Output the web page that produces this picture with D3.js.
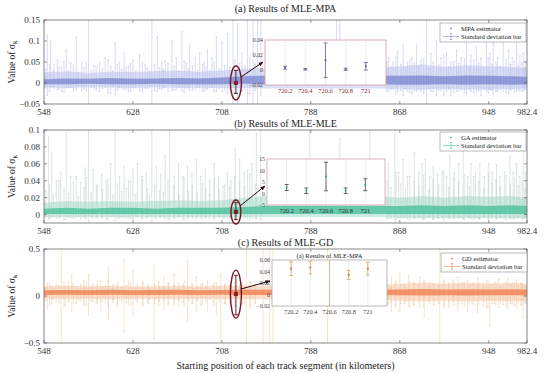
<!DOCTYPE html>
<html><head><meta charset="utf-8">
<script src="https://cdn.jsdelivr.net/npm/d3@7"></script>
<style>
body{margin:0;background:#fff}
svg{display:block}
text{font-family:"Liberation Serif","Times New Roman",serif}
</style>
</head><body><div id="chart"></div>
<script>
// ---- data ----
const kmTicks=[548,628,708,788,868,948,982.4];
const bandKm=[548,568,588,608,628,648,668,688,708,728,748,768,788,808,828,848,868,888,908,928,948,968,982.4];
const insetKm=[720.2,720.4,720.6,720.8,721];
// positions of the smaller error bars that make the fuzzy band
const fuzzKm=[549.5,553,556.5,561.5,566,570,574.5,579,584,586,590.5,595,600.5,605.5,610,614,618,622,626,630.5,636.5,641,643,647.5,652,655.5,659.5,665,669.5,674,678,681.5,686,690.5,693.5,697,701,705.5,710.5,715,719.5,724,728.5,733,738,
  856.5,860,864.5,869,873,877,881,885,889.5,894,898,903,907.5,912,916.5,921,926,930.5,934.5,939,943.5,947.5,951,954.5,958.5,963.5,967.5,971,974.5,978,980.5];

// (a) MPA
const mpaTicks=[-0.05,0,0.05,0.1,0.15];
const mpaCoreLo=[-0.003,-0.003,-0.002,-0.003,-0.003,-0.002,-0.003,-0.003,-0.003,-0.002,-0.003,-0.003,-0.003,-0.003,-0.003,-0.003,-0.004,-0.004,-0.003,-0.004,-0.003,-0.004,-0.003];
const mpaCoreHi=[0.009,0.011,0.010,0.012,0.010,0.011,0.012,0.011,0.013,0.016,0.018,0.017,0.016,0.016,0.016,0.017,0.017,0.018,0.016,0.018,0.017,0.016,0.015];
const mpaOutLo=[-0.010,-0.012,-0.010,-0.011,-0.012,-0.010,-0.012,-0.011,-0.012,-0.012,-0.013,-0.013,-0.013,-0.013,-0.013,-0.013,-0.015,-0.016,-0.014,-0.015,-0.016,-0.014,-0.013];
const mpaOutHi=[0.025,0.028,0.024,0.027,0.026,0.028,0.030,0.027,0.030,0.034,0.036,0.035,0.035,0.035,0.035,0.036,0.040,0.044,0.038,0.042,0.040,0.038,0.036];
const mpaFuzzHi=[0.032,0.045,0.028,0.038,0.051,0.03,0.042,0.026,0.036,0.048,0.03,0.04,0.034,0.055,0.028,0.044,0.032,0.038,0.046,0.029,0.05,0.035,0.027,0.043,0.036,0.031,0.047,0.04,0.028,0.052,0.033,0.041,0.03,0.045,0.037,0.029,0.05,0.034,0.042,0.038,0.055,0.047,0.04,0.06,0.045,
  0.05,0.038,0.062,0.044,0.036,0.055,0.048,0.04,0.058,0.035,0.05,0.043,0.065,0.039,0.052,0.046,0.058,0.04,0.055,0.048,0.036,0.06,0.045,0.05,0.039,0.056,0.044,0.052,0.041,0.048,0.038];
const mpaFuzzLo=[-0.012,-0.02,-0.009,-0.015,-0.022,-0.01,-0.018,-0.008,-0.014,-0.02,-0.011,-0.016,-0.013,-0.024,-0.009,-0.017,-0.012,-0.015,-0.019,-0.01,-0.021,-0.013,-0.009,-0.018,-0.014,-0.011,-0.02,-0.016,-0.01,-0.022,-0.012,-0.017,-0.011,-0.019,-0.014,-0.01,-0.021,-0.013,-0.017,-0.015,-0.023,-0.019,-0.016,-0.025,-0.018,
  -0.02,-0.015,-0.026,-0.018,-0.014,-0.023,-0.019,-0.016,-0.024,-0.013,-0.02,-0.017,-0.028,-0.015,-0.022,-0.018,-0.024,-0.016,-0.023,-0.019,-0.014,-0.025,-0.018,-0.02,-0.015,-0.023,-0.017,-0.021,-0.016,-0.019,-0.015];
// [km, upper, lower]
const mpaSpikes=[[551,0.114,-0.03],[554,0.098,-0.01],[557,0.045,-0.012],[560,0.055,-0.015],[564,0.038,-0.02],[568,0.079,-0.012],[572,0.048,-0.01],[577,0.108,-0.015],[582,0.05,-0.018],[588,0.15,-0.05],[593,0.042,-0.012],[598,0.048,-0.02],[603,0.06,-0.01],[608,0.04,-0.025],[612,0.096,-0.028],[616,0.05,-0.012],[620,0.071,-0.015],[624,0.04,-0.02],[628,0.055,-0.012],[634,0.067,-0.018],[639,0.045,-0.012],[645,0.15,-0.05],[650,0.11,-0.02],[654,0.05,-0.015],[657,0.052,-0.012],[663,0.102,-0.018],[667,0.06,-0.015],[672,0.122,-0.02],[676,0.048,-0.012],[679,0.09,-0.018],[684,0.06,-0.015],[688,0.071,-0.012],[692,0.05,-0.02],[695,0.079,-0.015],[699,0.06,-0.01],[703,0.11,-0.02],[708,0.098,-0.02],[713,0.118,-0.025],[718,0.15,-0.05],[722,0.141,-0.05],[726,0.07,-0.02],[731,0.15,-0.05],[736,0.15,-0.05],[740,0.15,-0.05],[743,0.15,-0.03],[811,0.15,0.01],[814,0.15,0.01],[858,0.06,-0.02],[862,0.05,-0.015],[866,0.075,-0.02],[871,0.09,-0.03],[875,0.05,-0.02],[879,0.06,-0.025],[883,0.09,-0.02],[887,0.055,-0.02],[892,0.15,-0.05],[896,0.07,-0.02],[901,0.1,-0.03],[905,0.06,-0.018],[910,0.071,-0.02],[914,0.05,-0.03],[919,0.079,-0.02],[923,0.06,-0.015],[928,0.098,-0.025],[932,0.065,-0.02],[937,0.087,-0.022],[941,0.06,-0.03],[946,0.11,-0.02],[949,0.07,-0.015],[952,0.094,-0.025],[956,0.06,-0.02],[961,0.106,-0.02],[966,0.079,-0.025],[969,0.06,-0.015],[973,0.102,-0.02],[976,0.065,-0.02],[979,0.071,-0.018],[981,0.05,-0.015]];
const mpaZoom=[0.0,-0.025,0.03];
const mpaInsetTicks=[-0.02,0,0.02,0.04];
const mpaInsetVal=[0.003,0.001,0.013,0.001,0.005];
const mpaInsetSd=[0.002,0.001,0.023,0.0015,0.005];

// (b) GA
const gaTicks=[0,0.02,0.04,0.06,0.08,0.1];
const gaCoreLo=[0.0005,0.0005,0.0005,0.0005,0.0005,0.0005,0.0005,0.0005,0.0005,0.0005,0.0005,0.0005,0.0005,0.0005,0.0005,0.0005,0.0005,0.0005,0.0005,0.0005,0.0005,0.0005,0.0005];
const gaCoreHi=[0.007,0.008,0.007,0.008,0.008,0.007,0.008,0.008,0.008,0.009,0.01,0.01,0.01,0.01,0.01,0.01,0.01,0.011,0.01,0.011,0.01,0.011,0.01];
const gaOutLo=[-0.003,-0.003,-0.003,-0.003,-0.003,-0.003,-0.003,-0.003,-0.003,-0.003,-0.003,-0.003,-0.003,-0.003,-0.003,-0.003,-0.004,-0.004,-0.004,-0.004,-0.004,-0.004,-0.004];
const gaOutHi=[0.014,0.016,0.015,0.016,0.015,0.016,0.017,0.016,0.017,0.02,0.022,0.022,0.022,0.022,0.022,0.022,0.02,0.022,0.02,0.022,0.021,0.022,0.02];
const gaFuzzHi=[0.028,0.035,0.022,0.04,0.03,0.025,0.038,0.021,0.032,0.044,0.026,0.034,0.029,0.042,0.023,0.036,0.027,0.031,0.039,0.024,0.041,0.03,0.022,0.035,0.028,0.026,0.04,0.033,0.023,0.043,0.027,0.034,0.025,0.037,0.031,0.024,0.042,0.029,0.035,0.032,0.045,0.038,0.033,0.048,0.036,
  0.04,0.032,0.05,0.036,0.03,0.045,0.039,0.033,0.047,0.029,0.041,0.035,0.052,0.032,0.043,0.038,0.047,0.033,0.045,0.039,0.03,0.049,0.037,0.041,0.032,0.046,0.036,0.043,0.034,0.04,0.031];
const gaFuzzLo=[-0.003,-0.005,-0.002,-0.004,-0.006,-0.003,-0.004,-0.002,-0.003,-0.005,-0.003,-0.004,-0.003,-0.006,-0.002,-0.004,-0.003,-0.004,-0.005,-0.002,-0.005,-0.003,-0.002,-0.004,-0.003,-0.003,-0.005,-0.004,-0.002,-0.006,-0.003,-0.004,-0.003,-0.005,-0.004,-0.002,-0.005,-0.003,-0.004,-0.004,-0.006,-0.005,-0.004,-0.006,-0.004,
  -0.005,-0.004,-0.006,-0.004,-0.003,-0.006,-0.005,-0.004,-0.006,-0.003,-0.005,-0.004,-0.007,-0.004,-0.005,-0.004,-0.006,-0.004,-0.006,-0.005,-0.003,-0.006,-0.004,-0.005,-0.004,-0.006,-0.004,-0.005,-0.004,-0.005,-0.004];
const gaSpikes=[[552,0.092,-0.005],[555,0.073,-0.003],[559,0.04,-0.004],[563,0.05,-0.003],[568,0.1,-0.006],[572,0.045,-0.004],[577,0.045,-0.003],[581,0.038,-0.005],[585,0.055,-0.004],[588,0.1,-0.01],[592,0.053,-0.004],[596,0.035,-0.003],[600,0.047,-0.004],[604,0.04,-0.005],[608,0.06,-0.003],[612,0.1,-0.008],[616,0.045,-0.004],[620,0.057,-0.003],[624,0.04,-0.004],[628,0.053,-0.005],[632,0.06,-0.003],[636,0.045,-0.004],[640,0.05,-0.004],[645,0.1,-0.01],[649,0.057,-0.004],[653,0.048,-0.003],[657,0.07,-0.005],[661,0.1,-0.006],[665,0.045,-0.004],[669,0.06,-0.003],[673,0.045,-0.004],[677,0.057,-0.005],[681,0.05,-0.003],[685,0.065,-0.004],[689,0.045,-0.004],[693,0.053,-0.003],[697,0.04,-0.005],[701,0.06,-0.004],[705,0.045,-0.003],[709,0.033,-0.004],[713,0.05,-0.004],[716,0.04,-0.003],[720,0.078,-0.005],[724,0.065,-0.004],[728,0.05,-0.003],[731,0.052,-0.004],[735,0.06,-0.004],[739,0.096,-0.005],[743,0.1,-0.006],[787,0.1,0.0],[814,0.09,0.0],[841,0.1,0.0],[858,0.06,-0.004],[863.5,0.1,-0.01],[867,0.05,-0.004],[871,0.065,-0.003],[875,0.045,-0.005],[881,0.073,-0.004],[885,0.05,-0.003],[888,0.06,-0.005],[891,0.065,-0.004],[895,0.045,-0.003],[898,0.057,-0.006],[902,0.048,-0.004],[906,0.05,-0.004],[910,0.045,-0.003],[913,0.07,-0.005],[917,0.05,-0.004],[921,0.06,-0.004],[925,0.075,-0.005],[929,0.045,-0.003],[932,0.06,-0.004],[936,0.05,-0.004],[940,0.06,-0.005],[944,0.045,-0.003],[948,0.06,-0.004],[951,0.05,-0.004],[955,0.059,-0.005],[958,0.045,-0.003],[962,0.05,-0.004],[967,0.069,-0.005],[970,0.05,-0.004],[973,0.06,-0.004],[976,0.045,-0.003],[979,0.075,-0.005],[981,0.05,-0.004]];
const gaZoom=[0.003,-0.006,0.014];
const gaInsetTicks=[-5,0,5,10,15];
const gaInsetVal=[2.6,1.2,7.4,1.2,3.8];
const gaInsetSd=[1.3,1.2,6.2,1.2,2.6];

// (c) GD
const gdTicks=[-0.5,0,0.5];
const gdCoreLo=[0.01,0.012,0.01,0.012,0.01,0.011,0.012,0.01,0.012,0.01,0.01,0.01,0.01,0.01,0.01,0.01,0.008,0.006,0.008,0.006,0.008,0.007,0.008];
const gdCoreHi=[0.062,0.065,0.06,0.066,0.062,0.064,0.066,0.062,0.065,0.066,0.066,0.066,0.066,0.066,0.066,0.066,0.07,0.074,0.07,0.072,0.07,0.072,0.07];
const gdOutLo=[-0.03,-0.035,-0.03,-0.035,-0.03,-0.032,-0.035,-0.03,-0.035,-0.035,-0.035,-0.035,-0.035,-0.035,-0.035,-0.035,-0.05,-0.055,-0.05,-0.055,-0.05,-0.055,-0.05];
const gdOutHi=[0.1,0.11,0.1,0.11,0.1,0.105,0.11,0.1,0.11,0.11,0.11,0.11,0.11,0.11,0.11,0.11,0.13,0.14,0.13,0.14,0.13,0.14,0.13];
const gdFuzzHi=[0.09,0.13,0.08,0.11,0.15,0.09,0.12,0.08,0.1,0.14,0.09,0.11,0.1,0.16,0.08,0.12,0.09,0.11,0.13,0.08,0.14,0.1,0.08,0.12,0.1,0.09,0.13,0.11,0.08,0.15,0.09,0.12,0.09,0.13,0.1,0.08,0.14,0.1,0.12,0.11,0.15,0.13,0.11,0.16,0.12,
  0.13,0.1,0.16,0.12,0.1,0.15,0.13,0.11,0.15,0.1,0.13,0.12,0.17,0.11,0.14,0.12,0.15,0.11,0.14,0.13,0.1,0.16,0.12,0.13,0.11,0.15,0.12,0.14,0.11,0.13,0.1];
const gdFuzzLo=[-0.05,-0.09,-0.04,-0.07,-0.1,-0.05,-0.08,-0.04,-0.06,-0.09,-0.05,-0.07,-0.06,-0.11,-0.04,-0.08,-0.05,-0.07,-0.09,-0.04,-0.1,-0.06,-0.04,-0.08,-0.06,-0.05,-0.09,-0.07,-0.04,-0.1,-0.05,-0.08,-0.05,-0.09,-0.06,-0.04,-0.1,-0.06,-0.08,-0.07,-0.11,-0.09,-0.07,-0.12,-0.08,
  -0.09,-0.07,-0.12,-0.08,-0.06,-0.11,-0.09,-0.07,-0.11,-0.06,-0.09,-0.08,-0.13,-0.07,-0.1,-0.08,-0.11,-0.07,-0.1,-0.09,-0.06,-0.12,-0.08,-0.09,-0.07,-0.11,-0.08,-0.1,-0.07,-0.09,-0.07];
const gdSpikes=[[551,0.14,-0.14],[555,0.1,-0.08],[559,0.12,-0.06],[563.5,0.5,-0.5],[567,0.1,-0.1],[570,0.15,-0.06],[573,0.23,-0.16],[577,0.1,-0.08],[581,0.12,-0.05],[584,0.16,-0.1],[588,0.23,-0.2],[592,0.12,-0.06],[596,0.16,-0.08],[599,0.16,-0.16],[603,0.1,-0.06],[606,0.3,-0.25],[610,0.12,-0.07],[614,0.14,-0.1],[620,0.38,-0.38],[624,0.15,-0.1],[628,0.27,-0.2],[632,0.12,-0.06],[637,0.16,-0.1],[642,0.12,-0.08],[647,0.34,-0.46],[651,0.15,-0.1],[656,0.2,-0.14],[660,0.14,-0.08],[665,0.23,-0.1],[669,0.14,-0.1],[673,0.12,-0.07],[677,0.38,-0.27],[681,0.14,-0.08],[685,0.2,-0.16],[689,0.12,-0.1],[695,0.16,-0.16],[700,0.12,-0.06],[703,0.14,-0.2],[707,0.23,-0.48],[711,0.12,-0.08],[716,0.15,-0.1],[726,0.14,-0.08],[730,0.5,-0.5],[734,0.15,-0.1],[738,0.12,-0.06],[745,0.5,-0.5],[751,0.5,-0.5],[754,0.5,-0.5],[803,0.5,-0.5],[858,0.12,-0.08],[860.5,0.2,-0.16],[864,0.14,-0.1],[868,0.25,-0.17],[872,0.12,-0.08],[876,0.22,-0.12],[880,0.15,-0.1],[886,0.2,-0.12],[890,0.16,-0.22],[895,0.14,-0.08],[899,0.12,-0.1],[904,0.5,-0.5],[908,0.15,-0.1],[912,0.14,-0.12],[916,0.17,-0.06],[920,0.2,-0.15],[924,0.14,-0.08],[929,0.16,-0.17],[933,0.12,-0.08],[938,0.19,-0.18],[943,0.14,-0.1],[946,0.16,-0.12],[949,0.12,-0.32],[953,0.14,-0.08],[957,0.18,-0.12],[961,0.12,-0.09],[965,0.19,-0.14],[969,0.12,-0.08],[973,0.17,-0.12],[977,0.14,-0.1],[979,0.12,-0.23],[981,0.1,-0.08]];
const gdZoom=[0.02,-0.2,0.22];
const gdInsetTicks=[-0.02,0,0.02,0.04,0.06];
const gdInsetVal=[0.045,0.047,0.3,0.034,0.045];
const gdInsetSd=[0.012,0.011,0.8,0.008,0.011];

// ---- layout ----
const W=550,H=373,L=44,R=527;
const svg=d3.select('#chart').append('svg').attr('width',W).attr('height',H);
const defs=svg.append('defs');
defs.append('marker').attr('id','arr').attr('viewBox','0 0 10 10').attr('refX',9).attr('refY',5)
  .attr('markerWidth',5).attr('markerHeight',5).attr('orient','auto')
  .append('path').attr('d','M0,1L10,5L0,9Z').attr('fill','#2a0a10');

const x=d3.scaleLinear().domain([548,982.4]).range([L,R]);
const fmt=d=>String(d).replace('-','\u2212');

const panels=[
  {id:'a',title:'(a) Results of MLE-MPA',titleY:12,top:20,bottom:104,dom:[-0.05,0.15],ticks:mpaTicks,
   coreLo:mpaCoreLo,coreHi:mpaCoreHi,outLo:mpaOutLo,outHi:mpaOutHi,fuzzHi:mpaFuzzHi,fuzzLo:mpaFuzzLo,spikes:mpaSpikes,zoom:mpaZoom,
   core:'#7f8ad0',out:'#c3c9ee',spike:'#b0b8e8',legend:['MPA estimator','Standard  deviation bar'],
   leg:[440,23],ell:[5.5,17],arrow:[[241,77],[263,62]],
   inset:{x0:265,x1:386,y0:40,y1:85,dom:[-0.02,0.04],ticks:mpaInsetTicks,val:mpaInsetVal,sd:mpaInsetSd,
     bar:'#5b6399',dot:'#5b6399',border:'#d89aa8',lab:'#8b2535',title:null}},
  {id:'b',title:'(b) Results of MLE-MLE',titleY:127,top:130,bottom:223,dom:[-0.01,0.1],ticks:gaTicks,
   coreLo:gaCoreLo,coreHi:gaCoreHi,outLo:gaOutLo,outHi:gaOutHi,fuzzHi:gaFuzzHi,fuzzLo:gaFuzzLo,spikes:gaSpikes,zoom:gaZoom,
   core:'#4cc09c',out:'#a9dfcd',spike:'#b8cbc2',legend:['GA estimator','Standard  deviation bar'],
   leg:[440,132],ell:[5,12],arrow:[[240,206],[265,186]],
   inset:{x0:267,x1:385,y0:159,y1:205,dom:[-5,15],ticks:gaInsetTicks,val:gaInsetVal,sd:gaInsetSd,
     bar:'#3d4a44',dot:'#3fa885',border:'#d4a0ac',lab:'#2d2d2d',title:null}},
  {id:'c',title:'(c) Results of MLE-GD',titleY:246,top:249,bottom:343,dom:[-0.5,0.5],ticks:gdTicks,
   coreLo:gdCoreLo,coreHi:gdCoreHi,outLo:gdOutLo,outHi:gdOutHi,fuzzHi:gdFuzzHi,fuzzLo:gdFuzzLo,spikes:gdSpikes,zoom:gdZoom,
   core:'#f2814f',out:'#f9c8b0',spike:'#eac89a',legend:['GD estimator','Standard  deviation bar'],
   leg:[441,253],ell:[5.5,24],arrow:[[241,289],[270,281]],
   inset:{x0:272,x1:387,y0:260,y1:306,dom:[-0.02,0.06],ticks:gdInsetTicks,val:gdInsetVal,sd:gdInsetSd,
     bar:'#d9a866',dot:'#e0783c',border:'#a8a8a8',lab:'#444',title:'(a) Results of MLE-MPA'}}
];

function bars(sel,rows,y,color,w){
  const b=sel.append('g').attr('stroke',color).attr('stroke-width',w);
  b.selectAll('line.v').data(rows).join('line').attr('class','v')
    .attr('x1',d=>x(d[0])).attr('x2',d=>x(d[0])).attr('y1',d=>y(d[1])).attr('y2',d=>y(d[2]));
  b.selectAll('line.t').data(rows).join('line').attr('class','t')
    .attr('x1',d=>x(d[0])-0.9).attr('x2',d=>x(d[0])+0.9).attr('y1',d=>y(d[1])).attr('y2',d=>y(d[1]));
  b.selectAll('line.b').data(rows).join('line').attr('class','b')
    .attr('x1',d=>x(d[0])-0.9).attr('x2',d=>x(d[0])+0.9).attr('y1',d=>y(d[2])).attr('y2',d=>y(d[2]));
}

panels.forEach(p=>{
  const y=d3.scaleLinear().domain(p.dom).range([p.bottom,p.top]);
  const g=svg.append('g');
  defs.append('clipPath').attr('id','clip-'+p.id).append('rect')
    .attr('x',L).attr('y',p.top).attr('width',R-L).attr('height',p.bottom-p.top);
  const plot=g.append('g').attr('clip-path',`url(#clip-${p.id})`);

  const band=(lo,hi)=>d3.area().x((d,i)=>x(bandKm[i])).y0((d,i)=>y(lo[i])).y1((d,i)=>y(hi[i]))(bandKm);
  plot.append('path').attr('d',band(p.outLo,p.outHi)).attr('fill',p.out).attr('opacity',0.6);

  const fuzz=fuzzKm.map((k,i)=>[k,p.fuzzHi[i],p.fuzzLo[i]]);
  bars(plot,fuzz,y,p.spike,0.5);
  bars(plot,p.spikes,y,p.spike,0.5);

  plot.append('path').attr('d',band(p.coreLo,p.coreHi)).attr('fill',p.core).attr('opacity',0.8);

  // frame + ticks
  g.append('rect').attr('x',L).attr('y',p.top).attr('width',R-L).attr('height',p.bottom-p.top)
    .attr('fill','none').attr('stroke','#555').attr('stroke-width',0.7);
  const tk=g.append('g').attr('stroke','#555').attr('stroke-width',0.6);
  kmTicks.forEach(t=>{
    tk.append('line').attr('x1',x(t)).attr('x2',x(t)).attr('y1',p.bottom).attr('y2',p.bottom-3);
    tk.append('line').attr('x1',x(t)).attr('x2',x(t)).attr('y1',p.top).attr('y2',p.top+3);
  });
  p.ticks.forEach(t=>{
    tk.append('line').attr('x1',L).attr('x2',L+3).attr('y1',y(t)).attr('y2',y(t));
    tk.append('line').attr('x1',R).attr('x2',R-3).attr('y1',y(t)).attr('y2',y(t));
  });
  g.selectAll('text.xt').data(kmTicks).join('text').attr('class','xt')
    .attr('x',d=>x(d)).attr('y',p.bottom+10.5).attr('text-anchor','middle')
    .attr('font-size',9).attr('fill','#333').text(d=>d);
  g.selectAll('text.yt').data(p.ticks).join('text').attr('class','yt')
    .attr('x',L-4).attr('y',d=>y(d)+3).attr('text-anchor','end')
    .attr('font-size',9).attr('fill','#333').text(fmt);

  // titles
  g.append('text').attr('x',(L+R)/2).attr('y',p.titleY).attr('text-anchor','middle')
    .attr('font-size',10).attr('fill','#222').text(p.title);
  const yl=g.append('text').attr('transform',`translate(15,${(p.top+p.bottom)/2}) rotate(-90)`)
    .attr('text-anchor','middle').attr('font-size',9.5).attr('fill','#222');
  yl.append('tspan').text('Value of \u03c3');
  yl.append('tspan').attr('font-size',7).attr('dy',2).text('k');

  // legend
  const [lx,ly]=p.leg;
  const lg=g.append('g').attr('transform',`translate(${lx},${ly})`);
  lg.append('rect').attr('width',86).attr('height',19).attr('fill','#fff').attr('stroke','#777').attr('stroke-width',0.5);
  lg.append('circle').attr('cx',11).attr('cy',5.5).attr('r',0.9).attr('fill',p.core);
  lg.append('line').attr('x1',3).attr('x2',19).attr('y1',13.5).attr('y2',13.5).attr('stroke',p.core).attr('stroke-width',0.6);
  lg.append('line').attr('x1',11).attr('x2',11).attr('y1',10.5).attr('y2',16.5).attr('stroke',p.core).attr('stroke-width',0.6);
  [10.5,16.5].forEach(v=>lg.append('line').attr('x1',9.8).attr('x2',12.2).attr('y1',v).attr('y2',v).attr('stroke',p.core).attr('stroke-width',0.6));
  lg.append('text').attr('x',21).attr('y',7.5).attr('font-size',6.7).attr('fill','#222').text(p.legend[0]);
  lg.append('text').attr('x',21).attr('y',16).attr('font-size',6.7).attr('fill','#222').text(p.legend[1]);

  // zoomed-in segment: ellipse + error bar
  const cx=x(720.6),[zv,zlo,zhi]=p.zoom;
  g.append('line').attr('x1',cx).attr('x2',cx).attr('y1',y(zhi)).attr('y2',y(zlo)).attr('stroke','#3a1418').attr('stroke-width',0.9);
  [zhi,zlo].forEach(v=>g.append('line').attr('x1',cx-2).attr('x2',cx+2).attr('y1',y(v)).attr('y2',y(v)).attr('stroke','#3a1418').attr('stroke-width',0.9));
  g.append('rect').attr('x',cx-2).attr('y',y(zv)-2).attr('width',4).attr('height',4).attr('fill','#8b1a22');
  g.append('ellipse').attr('cx',cx).attr('cy',y(zv)).attr('rx',p.ell[0]).attr('ry',p.ell[1])
    .attr('fill','none').attr('stroke','#7a1423').attr('stroke-width',1.4);

  // inset
  const s=p.inset;
  const ix=d3.scaleLinear().domain([720,721.2]).range([s.x0,s.x1]);
  const iy=d3.scaleLinear().domain(s.dom).range([s.y1,s.y0]);
  defs.append('clipPath').attr('id','iclip-'+p.id).append('rect')
    .attr('x',s.x0).attr('y',s.y0).attr('width',s.x1-s.x0).attr('height',s.y1-s.y0);
  const ig=g.append('g');
  ig.append('rect').attr('x',s.x0).attr('y',s.y0).attr('width',s.x1-s.x0).attr('height',s.y1-s.y0).attr('fill','#fff');
  ig.selectAll('line.gr').data(insetKm).join('line').attr('class','gr')
    .attr('x1',d=>ix(d)).attr('x2',d=>ix(d)).attr('y1',s.y0).attr('y2',s.y1).attr('stroke','#e2e2e2').attr('stroke-width',0.6);
  const ic=ig.append('g').attr('clip-path',`url(#iclip-${p.id})`);
  insetKm.forEach((k,i)=>{
    const v=s.val[i],e=s.sd[i];
    ic.append('line').attr('x1',ix(k)).attr('x2',ix(k)).attr('y1',iy(v+e)).attr('y2',iy(v-e)).attr('stroke',s.bar).attr('stroke-width',0.8);
    [v+e,v-e].forEach(t=>ic.append('line').attr('x1',ix(k)-2).attr('x2',ix(k)+2).attr('y1',iy(t)).attr('y2',iy(t)).attr('stroke',s.bar).attr('stroke-width',0.8));
    ic.append('circle').attr('cx',ix(k)).attr('cy',iy(v)).attr('r',1.1).attr('fill',s.dot);
  });
  ig.append('rect').attr('x',s.x0).attr('y',s.y0).attr('width',s.x1-s.x0).attr('height',s.y1-s.y0)
    .attr('fill','none').attr('stroke',s.border).attr('stroke-width',0.8);
  ig.selectAll('text.ix').data(insetKm).join('text').attr('class','ix')
    .attr('x',d=>ix(d)).attr('y',s.y1+8).attr('text-anchor','middle').attr('font-size',6.4)
    .attr('fill',s.lab).text(d=>d);
  ig.selectAll('text.iy').data(s.ticks).join('text').attr('class','iy')
    .attr('x',s.x0-2).attr('y',d=>iy(d)+2).attr('text-anchor','end').attr('font-size',5.8)
    .attr('fill','#444').text(fmt);
  if(s.title)ig.append('text').attr('x',(s.x0+s.x1)/2).attr('y',s.y0-2.5).attr('text-anchor','middle')
    .attr('font-size',6.5).attr('fill','#222').text(s.title);

  // arrow
  g.append('line').attr('x1',p.arrow[0][0]).attr('y1',p.arrow[0][1]).attr('x2',p.arrow[1][0]).attr('y2',p.arrow[1][1])
    .attr('stroke','#2a0a10').attr('stroke-width',1).attr('marker-end','url(#arr)');
});

svg.append('text').attr('x',(L+R)/2).attr('y',369).attr('text-anchor','middle')
  .attr('font-size',10).attr('fill','#222').text('Starting position of each track segment (in kilometers)');
</script></body></html>
